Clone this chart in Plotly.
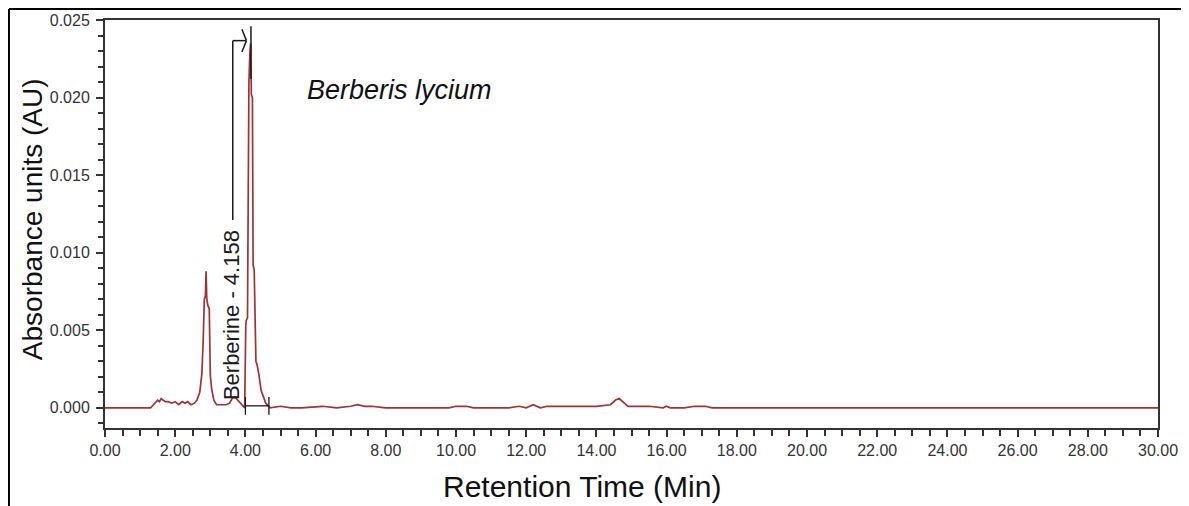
import plotly.graph_objects as go

# Chromatogram (retention time in min, absorbance in AU)
time_min = [0.00, 1.30, 1.38, 1.45, 1.50, 1.55, 1.60, 1.65, 1.72, 1.80, 1.90, 2.00, 2.10,
            2.20, 2.28, 2.35, 2.45, 2.55, 2.62, 2.70, 2.76, 2.80, 2.83, 2.86, 2.88,
            2.90, 2.93, 2.97, 3.00, 3.04, 3.10, 3.18, 3.30, 3.45, 3.55, 3.62, 3.70,
            3.78, 3.88, 3.98, 4.01, 4.02, 4.06, 4.08, 4.10, 4.13, 4.15, 4.17, 4.20,
            4.22, 4.25, 4.30, 4.33, 4.38, 4.45, 4.50, 4.58, 4.70, 5.00, 5.30, 5.60,
            6.20, 6.60, 7.00, 7.20, 7.40, 7.60, 8.00, 9.00, 9.80, 10.00, 10.30,
            10.50, 11.50, 11.80, 12.00, 12.20, 12.40, 12.60, 13.00, 14.00, 14.40,
            14.55, 14.65, 14.75, 14.90, 15.50, 15.90, 16.00, 16.10, 16.50, 16.80,
            17.10, 17.30, 20.00, 25.00, 30.00]
absorbance = [0.0000, 0.0000, 0.0002, 0.0004, 0.0005, 0.0004, 0.0006, 0.0005, 0.0004,
              0.0004, 0.0003, 0.0004, 0.0002, 0.0004, 0.0003, 0.0004, 0.0002, 0.0003,
              0.0005, 0.0010, 0.0022, 0.0045, 0.0070, 0.0072, 0.0088, 0.0070, 0.0066,
              0.0064, 0.0021, 0.0012, 0.0005, 0.0002, 0.0002, 0.0002, 0.0003, 0.0006,
              0.0007, 0.0005, 0.0002, 0.0000, 0.0052, 0.0056, 0.0058, 0.0208, 0.0210,
              0.0230, 0.0235, 0.0202, 0.0200, 0.0092, 0.0089, 0.0030, 0.0028, 0.0022,
              0.0011, 0.0008, 0.0003, 0.0000, 0.0001, 0.0000, 0.0000, 0.0001, 0.0000,
              0.0001, 0.0002, 0.0001, 0.0001, 0.0000, 0.0000, 0.0000, 0.0001, 0.0001,
              0.0000, 0.0000, 0.0001, 0.0000, 0.0002, 0.0000, 0.0001, 0.0001, 0.0001,
              0.0002, 0.0005, 0.0006, 0.0004, 0.0001, 0.0001, 0.0000, 0.0001, 0.0000,
              0.0000, 0.0001, 0.0001, 0.0000, 0.0000, 0.0000, 0.0000]

x_tick_vals = [0, 2, 4, 6, 8, 10, 12, 14, 16, 18, 20, 22, 24, 26, 28, 30]
x_tick_text = ["0.00", "2.00", "4.00", "6.00", "8.00", "10.00", "12.00", "14.00", "16.00",
               "18.00", "20.00", "22.00", "24.00", "26.00", "28.00", "30.00"]
y_tick_vals = [0.000, 0.005, 0.010, 0.015, 0.020, 0.025]
y_tick_text = ["0.000", "0.005", "0.010", "0.015", "0.020", "0.025"]

peak_label = "Berberine - 4.158"
peak_rt = 4.158
peak_start, peak_end = 4.00, 4.67
sample_name = "Berberis lycium"
x_title = "Retention Time (Min)"
y_title = "Absorbance units (AU)"

FONT = "Liberation Sans, Arial"

fig = go.Figure()
fig.add_trace(go.Scatter(x=time_min, y=absorbance, mode="lines",
                         line=dict(color="#a03234", width=1.7),
                         showlegend=False, hoverinfo="skip"))

black = "#1a1a1a"
shapes = [
    dict(type="line", xref="x", yref="y", x0=peak_rt, x1=peak_rt, y0=0.0212, y1=0.0246,
         line=dict(color=black, width=1.5)),
    dict(type="line", xref="x", yref="y", x0=3.64, x1=3.64, y0=0.0121, y1=0.02367,
         line=dict(color=black, width=1.5)),
    dict(type="line", xref="x", yref="y", x0=3.64, x1=4.02, y0=0.02367, y1=0.02367,
         line=dict(color=black, width=1.5)),
    dict(type="line", xref="x", yref="y", x0=3.90, x1=4.03, y0=0.02440, y1=0.02367,
         line=dict(color=black, width=1.5)),
    dict(type="line", xref="x", yref="y", x0=3.90, x1=4.03, y0=0.02294, y1=0.02367,
         line=dict(color=black, width=1.5)),
    dict(type="line", xref="x", yref="y", x0=peak_start, x1=peak_end, y0=0.00013, y1=0.00013,
         line=dict(color=black, width=1.3)),
    dict(type="line", xref="x", yref="y", x0=peak_start, x1=peak_start, y0=-0.00045, y1=0.0007,
         line=dict(color=black, width=1.3)),
    dict(type="line", xref="x", yref="y", x0=peak_end, x1=peak_end, y0=-0.00045, y1=0.0007,
         line=dict(color=black, width=1.3)),
    # outer frame (top and left)
    dict(type="line", xref="paper", yref="paper", x0=-0.0912, x1=1.03, y0=1.027, y1=1.027,
         line=dict(color="black", width=2)),
    dict(type="line", xref="paper", yref="paper", x0=-0.0912, x1=-0.0912, y0=1.027, y1=-0.22,
         line=dict(color="black", width=2)),
]

annotations = [
    dict(x=3.60, y=0.0060, xref="x", yref="y", text=peak_label, textangle=-90,
         showarrow=False, font=dict(family=FONT, size=22, color=black)),
    dict(x=0.190, y=0.828, xref="paper", yref="paper", text="<i>" + sample_name + "</i>",
         showarrow=False, xanchor="left", yanchor="middle",
         font=dict(family=FONT, size=27, color="#111111")),
    dict(x=0.453, y=-0.1446, xref="paper", yref="paper", text=x_title,
         showarrow=False, xanchor="center", yanchor="middle",
         font=dict(family=FONT, size=30, color="#111111")),
    dict(x=-0.0693, y=0.512, xref="paper", yref="paper", text=y_title, textangle=-90,
         showarrow=False, xanchor="center", yanchor="middle",
         font=dict(family=FONT, size=28, color="#111111")),
]

axis_common = dict(showline=True, linecolor="#333333", linewidth=2, mirror=True,
                   ticks="outside", tickcolor="#333333", tickwidth=1.5, ticklen=7,
                   showgrid=False, zeroline=False, automargin=False,
                   tickfont=dict(family=FONT, size=16, color="#333333"))

# page body has an 8px margin; compensate so the plot area sits where it should
fig.update_layout(
    width=1181, height=498,
    margin=dict(l=97, r=31, t=12, b=78),
    paper_bgcolor="white", plot_bgcolor="white",
    shapes=shapes, annotations=annotations,
    xaxis=dict(range=[0, 30], tickvals=x_tick_vals, ticktext=x_tick_text,
               minor=dict(dtick=0.5, tick0=0, ticks="outside", ticklen=6, tickcolor="#333333",
                          tickwidth=1.5),
               **axis_common),
    yaxis=dict(range=[-0.0013, 0.025], tickvals=y_tick_vals, ticktext=y_tick_text,
               ticklabelstandoff=3,
               minor=dict(dtick=0.001, tick0=0, ticks="outside", ticklen=5, tickcolor="#333333",
                          tickwidth=1.5),
               **axis_common),
)

fig.write_html("out.html")
